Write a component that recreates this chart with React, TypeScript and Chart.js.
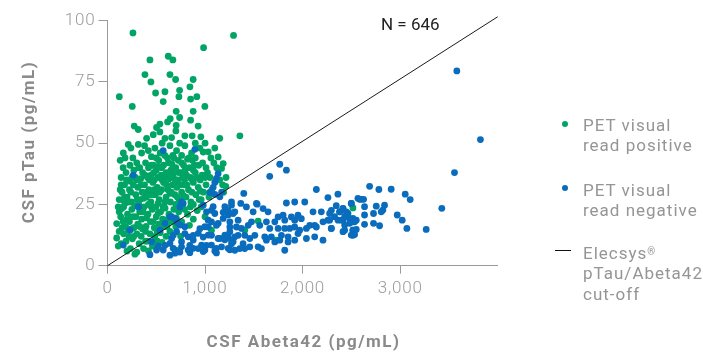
import { useEffect, useRef } from "react";
import { Chart, registerables } from "chart.js";

Chart.register(...registerables);

const GREEN = "#00a566";
const BLUE = "#0a6cbc";
const AXIS = "#9a9a9a";
const TICK = "#9c9c9c";
const TITLE = "#8a8a8a";

const xTicks = [0, 1000, 2000, 3000];
const yTicks = [0, 25, 50, 75, 100];
const cutoffLine: [number, number][] = [[0, 0], [4000, 101.6]];
const sampleSize = "N = 646";
const xTitle = "CSF Abeta42 (pg/mL)";
const yTitle = "CSF pTau (pg/mL)";

const positive: [number, number][] = [
  [261,95],[1292,94],[985,89],[435,84],[623,85.5],[670,84],[384,78],[640,78],[445,75],[698,76],[878,76],[845,73],[121,69],[493,70.5],[589,71],[739,71.6],[732,69],[916,69],[571,67],[852,68],[254,65],[998,65],[704,63],[878,63],[739,60.5],[643,60],[616,58.7],[852,59.4],[537,57.8],[274,57],[315,55.6],[503,56.4],[704,57.3],[929,57],[701,55],[469,53.5],[537,54.6],[401,52],[589,52],[657,52.3],[793,53],[868,53],[957,52.6],[1151,52],[1357,53],
  [213,49.5],[316,49.5],[418,47],[486,48],[640,49],[708,47],[793,49],[862,46],[947,48],[1032,46.5],[1100,48],[162,46],[588,45],[350,46],[540,46],[760,45],[900,44],[1134,44.4],[450,44.5],[260,44],[680,44],[820,43.5],[981,46.4],[1186,41.7],
  [190,38],[230,41],[270,39],[300,42],[330,40],[360,38],[390,42],[420,40],[445,37],[470,41],[500,39],[525,43],[550,37],[575,41],[600,38],[625,42],[650,39],[675,36],[700,40],[725,43],[750,38],[780,41],[810,37],[840,40],[870,43],[900,38],[935,41],[970,37],[1010,40],[1050,36],[1090,42],[1169,39.7],[1215,36],[250,36],[340,35.5],[410,36],[480,35],[560,35],[630,35.5],[720,35],[790,35],[860,35.5],[950,35],[160,40],[140,36],[520,40.5],[660,41.5],[880,39],
  [120,27],[150,30],[175,33],[200,28],[225,31],[245,26],[265,33],[290,29],[310,32],[335,27],[355,30],[380,33],[400,28],[425,31],[445,26],[465,34],[490,29],[510,32],[530,27],[555,31],[575,34],[600,28],[620,31],[645,26],[665,33],[690,29],[710,32],[735,27],[760,30],[785,33],[805,28],[830,31],[855,26],[880,34],[905,29],[930,32],[960,27],[985,30],[1010,33],[1040,28],[1070,31],[1213,32.4],[1190,30],[180,25.5],[320,25],[420,25],[520,25.5],[700,25],[880,25],[140,33],[230,34.5],[590,26],[162,26.7],[370,27.5],[480,31],[640,29.5],[780,28.5],[950,30.5],
  [94,17.2],[120,22],[145,23.3],[165,24],[185,16],[205,21],[225,18],[250,23],[270,15.5],[290,20],[310,17],[330,22],[350,19],[375,24],[395,16],[415,21],[440,18],[460,23],[480,15.5],[500,20],[525,17],[545,22],[565,19],[590,23.5],[610,16],[630,21],[655,18],[680,23],[705,19.5],[730,22],[760,18],[790,23],[820,21],[850,24],[880,19],[920,22.5],[960,24],[1000,20],[1230,22.6],[1544,18.2],[110,24],[240,15],[360,15],[440,24.5],[580,16],[700,16],[840,16.5],[150,15.5],[200,19],[280,24.5],[400,19.5],[520,21.5],
  [94,11.3],[120,14],[140,9],[165,13],[190,10],[215,14.5],[235,7],[255,11],[281,4.7],[300,13],[325,9],[345,12],[370,7],[390,14],[410,10],[435,13],[460,8],[485,12],[510,10],[540,13.5],[560,9.5],[600,12],[640,14],[708,6.3],[750,12],[1066,14.5],[1407,14.5],[1732,10.4],[2516,23.6],[200,6],[300,5.5],[420,6],[110,8],
  [135,20],[175,28],[195,35],[215,26],[240,30],[260,20],[285,36],[305,27],[320,40],[345,33],[365,22],[385,37],[405,30],[430,35],[455,29],[475,38],[495,24],[515,36],[535,30],[555,40],[570,24],[585,37],[605,33],[615,44],[635,38],[655,30],[670,45],[685,38],[695,34],[715,28],[730,38],[745,33],[770,36],[795,39],[815,33],[835,44],[850,36],[865,30],[890,41],[915,36],[940,27],[975,42],[1000,36],[1025,38],[1060,44],[1120,40],[1150,35],[1180,33],[130,43],[180,44],[240,48],[380,49],[560,50],[740,50],[900,50],[1000,50],[300,35],[450,41],[610,36],[760,42],[220,12],[330,16],[470,18],[620,19],[160,18],[270,12],[390,10],[510,14],[130,31],[500,44]
];

const negative: [number, number][] = [
  [264,37],[571,47],[896,47.5],[316,24],[776,25.4],[759,26],[742,24],[691,19.3],[589,17.3],[230,14.5],[162,8.4],[452,9.8],[503,6.4],[435,4.5],[571,6.4],[537,14.5],[640,20],[674,12.4],[691,5.1],[520,8],
  [1134,37.6],[1117,35.6],[1100,34],[1083,32],[1049,29.9],[1100,29.1],[1152,28.1],[1170,30],
  [657,20],[708,18.6],[742,16.6],[793,15.9],[708,13.9],[657,11.1],[759,9.8],[827,11.8],[879,10.5],[930,13.2],[964,8.4],[998,6.4],[1066,8.4],[1117,7.1],[1152,11.1],[1203,12.5],[1254,13.9],[1288,9.8],[1237,7.1],[827,6.4],[725,5.7],[674,7.1],[640,9.1],[879,7.1],[1032,12.5],[998,15.9],[1066,17.9],[1134,17.3],[1186,19.3],[1237,20.7],[1288,21.3],[1203,24.1],[1271,24.7],[1083,24.1],[1100,21.3],[1015,22],[1032,18.6],
  [981,24.7],[1066,22.6],[1186,21.8],[725,17.2],[947,15.1],[1032,15.8],[1117,16.5],[1254,17.9],[1322,15.8],[793,13.1],[879,12.4],[981,11.7],[1066,12.4],[1134,11.1],[1203,10.6],[1271,10.4],[1339,12.4],[589,8.3],[759,7.7],[844,8.3],[930,7],[1015,8.3],[1100,6],[1169,7.7],[1254,6.5],[640,4.3],[742,5.6],[844,5.3],[981,5.8],[1117,5.2],[1390,9],[1459,11.1],
  [1766,41.4],[1834,39],[1663,36.5],[2141,31.1],[1397,29.5],[2362,29.2],[2260,27.8],[2500,25.4],[1527,25.4],
  [1271,26],[1366,25.4],[1424,24],[1534,25.1],[1595,23.3],[1834,25.6],[1919,26],[2022,26],[1646,22],[1749,19.9],[1800,20.6],[1885,19.9],[1953,20.6],[2107,22],[2192,22],[2295,22.6],[2414,23.3],[2380,22],[2448,22],[1493,22],[1305,22],[1237,22.6],
  [1339,18.6],[1476,17.9],[1629,17.9],[1715,17.9],[1817,18.6],[1919,18.6],[1987,19.2],[2073,16.5],[2124,16.5],[2209,17.9],[2260,18.6],[2295,15.2],[2363,18.6],[2414,18.6],[2482,19.2],[2516,17.9],[2550,18.6],
  [1254,15.8],[1373,15.2],[1442,16.5],[1561,16.5],[1663,15.2],[1749,15.2],[1817,15.2],[1868,15.2],[1919,15.8],[1970,14.5],[2039,15.2],[2141,15.8],[2431,14.5],[2516,14.5],
  [1237,11.8],[1305,11.8],[1407,12.4],[1510,12.4],[1612,11.8],[1680,11.8],[1783,12.4],[1851,11.8],[1953,13.1],[2124,11.8],[2209,10.4],[2516,12.4],
  [1271,9],[1356,7],[1459,7.7],[1544,7.7],[1629,10.4],[1715,9.7],[1766,10.4],[1851,9.7],[1919,10.4],[2039,11.1],[1305,6.3],[1407,7],[1578,7],[1817,6.3],
  [2345,24.5],[2379,22],[2414,23.4],[2431,20],[2465,21.3],[2499,25.4],[2516,19.3],[2533,17.9],[2567,27.5],[2601,27.1],[2635,24.1],[2635,20.7],[2727,21.3],[2755,24.3],[2823,22.7],[2840,24.7],[2806,22],[2635,16.9],[2727,17.3],[2789,16.3],[2431,16.6],[2482,17.3],[2516,14.5],[2414,13.9],[2499,12.5],[2277,18.6],[2294,15.2],[2277,21.3],[2328,20],[2396,18.6],
  [2584,27.1],[2625,27.1],[2687,32.4],[2782,31.1],[2908,31.2],[3052,29.2],[3103,27],[2970,20.7],[3021,18.6],[3069,15.2],[3267,14.8],[3427,23.4],[3557,38],[3581,79.5],[3823,51.5],[2550,14.8],[2533,12.7]
];

const toPoints = (arr: [number, number][]) => arr.map(([x, y]) => ({ x, y }));

const tickSpacing = {
  id: "tickSpacing",
  beforeDraw(chart: any) {
    chart.ctx.letterSpacing = "0.8px";
  },
  afterDraw(chart: any) {
    chart.ctx.letterSpacing = "0px";
  },
};

const legendText: React.CSSProperties = {
  position: "absolute",
  left: 583,
  fontFamily: "Roboto",
  fontWeight: 400,
  fontSize: 17,
  lineHeight: "20.3px",
  letterSpacing: "1px",
  color: "#959595",
  whiteSpace: "nowrap",
};

const titleStyle: React.CSSProperties = {
  position: "absolute",
  fontFamily: "Roboto",
  fontWeight: 700,
  fontSize: 17,
  lineHeight: "20px",
  letterSpacing: "1.5px",
  color: TITLE,
  whiteSpace: "nowrap",
  textAlign: "center",
  width: 260,
};

export default function App() {
  const ref = useRef<HTMLCanvasElement>(null);

  useEffect(() => {
    if (!ref.current) return;
    const chart = new Chart(ref.current, {
      type: "scatter",
      data: {
        datasets: [
          {
            label: "Elecsys pTau/Abeta42 cut-off",
            type: "line",
            data: toPoints(cutoffLine),
            borderColor: "#1a1a1a",
            borderWidth: 1,
            pointRadius: 0,
            fill: false,
            clip: false as any,
            order: 0,
          } as any,
          {
            label: "PET visual read negative",
            data: toPoints(negative),
            backgroundColor: BLUE,
            borderWidth: 0,
            pointRadius: 3.4,
            order: 1,
          },
          {
            label: "PET visual read positive",
            data: toPoints(positive),
            backgroundColor: GREEN,
            borderWidth: 0,
            pointRadius: 3.4,
            order: 2,
          },
        ],
      },
      plugins: [tickSpacing],
      options: {
        responsive: false,
        maintainAspectRatio: false,
        animation: false,
        events: [],
        layout: { padding: { top: 20.7, right: 205.3, left: 0, bottom: 0 } },
        plugins: { legend: { display: false }, tooltip: { enabled: false } },
        scales: {
          x: {
            type: "linear",
            min: 0,
            max: 4000,
            afterBuildTicks: (s: any) => {
              s.ticks = xTicks.map((v) => ({ value: v }));
            },
            afterFit: (s: any) => {
              s.height = 87.3;
            },
            grid: { drawOnChartArea: false, drawTicks: true, tickLength: 8, color: AXIS },
            border: { color: AXIS, width: 1 },
            ticks: {
              color: TICK,
              padding: 5,
              font: { family: "Roboto", size: 17, weight: "300" as any },
              callback: (v: any) => Number(v).toLocaleString("en-US"),
            },
            title: { display: false },
          },
          y: {
            type: "linear",
            min: 0,
            max: 100,
            afterBuildTicks: (s: any) => {
              s.ticks = yTicks.map((v) => ({ value: v }));
            },
            afterFit: (s: any) => {
              s.width = 107.5;
            },
            grid: { drawOnChartArea: false, drawTicks: true, tickLength: 9, color: AXIS },
            border: { color: AXIS, width: 1 },
            ticks: {
              color: TICK,
              padding: 3,
              font: { family: "Roboto", size: 17, weight: "300" as any },
              callback: (v: any) => String(v),
            },
            title: { display: false },
          },
        },
      },
    });
    return () => chart.destroy();
  }, []);

  return (
    <div style={{ position: "fixed", left: 0, top: 0, width: 703, height: 353, background: "#fff" }}>
      <canvas ref={ref} width={703} height={353} style={{ display: "block" }} />
      <div style={{ ...titleStyle, left: 303.5 - 130, top: 331 }}>{xTitle}</div>
      <div
        style={{
          ...titleStyle,
          left: 28.2 - 130,
          top: 141.5 - 10,
          transform: "rotate(-90deg)",
          transformOrigin: "50% 50%",
        }}
      >
        {yTitle}
      </div>
      <div
        style={{
          position: "absolute",
          left: 381,
          top: 14,
          fontFamily: "Roboto",
          fontSize: 17,
          lineHeight: "20px",
          color: "#222",
          whiteSpace: "nowrap",
        }}
      >
        {sampleSize}
      </div>
      <div style={{ position: "absolute", left: 562.3, top: 121.3, width: 6, height: 6, borderRadius: 3, background: GREEN }} />
      <div style={{ ...legendText, top: 115 }}>
        PET visual
        <br />
        read positive
      </div>
      <div style={{ position: "absolute", left: 562.3, top: 184.7, width: 6, height: 6, borderRadius: 3, background: BLUE }} />
      <div style={{ ...legendText, top: 180 }}>
        PET visual
        <br />
        read negative
      </div>
      <div style={{ position: "absolute", left: 555, top: 249.5, width: 16, height: 1.2, background: "#111" }} />
      <div style={{ ...legendText, top: 243 }}>
        Elecsys<sup style={{ fontSize: 10, verticalAlign: "top", position: "relative", top: -1 }}>®</sup>
        <br />
        pTau/Abeta42
        <br />
        cut-off
      </div>
    </div>
  );
}
